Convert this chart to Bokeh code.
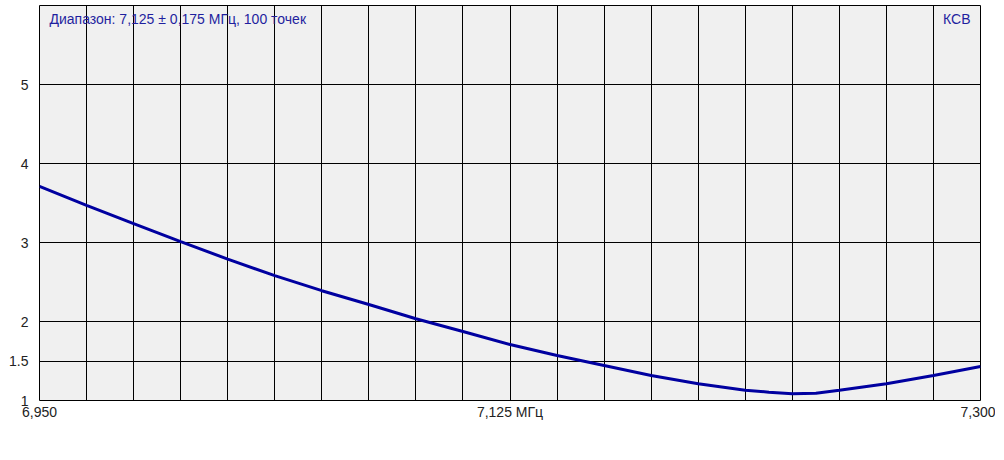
from bokeh.plotting import figure
from bokeh.models import Range1d, FixedTicker, Label
from bokeh.embed import file_html
from bokeh.resources import INLINE

# frequency (MHz) and SWR
freq = [6.95, 6.9675, 6.985, 7.0025, 7.02, 7.0375, 7.055, 7.0725, 7.09, 7.1075,
        7.125, 7.1425, 7.16, 7.1775, 7.195, 7.2125, 7.2213, 7.23, 7.2388, 7.2475,
        7.265, 7.2825, 7.30]
swr = [3.71, 3.47, 3.24, 3.01, 2.79, 2.58, 2.39, 2.215, 2.035, 1.873,
       1.709, 1.570, 1.443, 1.316, 1.211, 1.131, 1.105, 1.085, 1.093, 1.131,
       1.211, 1.316, 1.430]

x_ticks = [6.95, 7.125, 7.3]
x_tick_labels = {6.95: "6,950", 7.125: "7,125 МГц", 7.3: "7,300"}
x_grid = [6.95, 6.9675, 6.985, 7.0025, 7.02, 7.0375, 7.055, 7.0725, 7.09, 7.1075,
          7.125, 7.1425, 7.16, 7.1775, 7.195, 7.2125, 7.23, 7.2475, 7.265, 7.2825, 7.3]
y_ticks = [1, 1.5, 2, 3, 4, 5]
title_text = "Диапазон: 7,125 ± 0,175 МГц, 100 точек"
series_name = "КСВ"

FONT = "Liberation Sans"

p = figure(output_backend="svg", toolbar_location=None,
           frame_width=941, frame_height=395,
           min_border_left=39, min_border_top=5, min_border_right=15, min_border_bottom=10,
           x_range=Range1d(6.95, 7.3), y_range=Range1d(1, 6))

p.background_fill_color = "#f0f0f0"
p.border_fill_color = "white"
p.outline_line_color = "black"
p.outline_line_width = 1

p.xaxis.ticker = FixedTicker(ticks=x_ticks)
p.xaxis.major_label_overrides = x_tick_labels
p.yaxis.ticker = FixedTicker(ticks=y_ticks)
for ax in (p.xaxis, p.yaxis):
    ax.axis_line_color = None
    ax.major_tick_out = 0
    ax.major_tick_in = 0
    ax.minor_tick_out = 0
    ax.minor_tick_in = 0
    ax.major_label_text_font = FONT
    ax.major_label_text_font_size = "14px"
    ax.major_label_text_color = "#222222"
p.xaxis.major_label_standoff = 3
p.yaxis.major_label_standoff = 11

p.xgrid.ticker = FixedTicker(ticks=x_grid)
p.ygrid.ticker = FixedTicker(ticks=y_ticks)
for g in (p.xgrid, p.ygrid):
    g.grid_line_color = "black"
    g.grid_line_alpha = 1.0
    g.grid_line_width = 1

p.line(freq, swr, line_color="#0000a0", line_width=3)

p.add_layout(Label(x=6.95, y=6, x_offset=10, y_offset=-5, text=title_text,
                   text_font=FONT, text_font_size="14px", text_color="#1f1f9f",
                   text_baseline="top", text_align="left"))
p.add_layout(Label(x=7.3, y=6, x_offset=-10, y_offset=-5, text=series_name,
                   text_font=FONT, text_font_size="14px", text_color="#1f1f9f",
                   text_baseline="top", text_align="right"))

open("out.html", "w").write(file_html(p, INLINE))
